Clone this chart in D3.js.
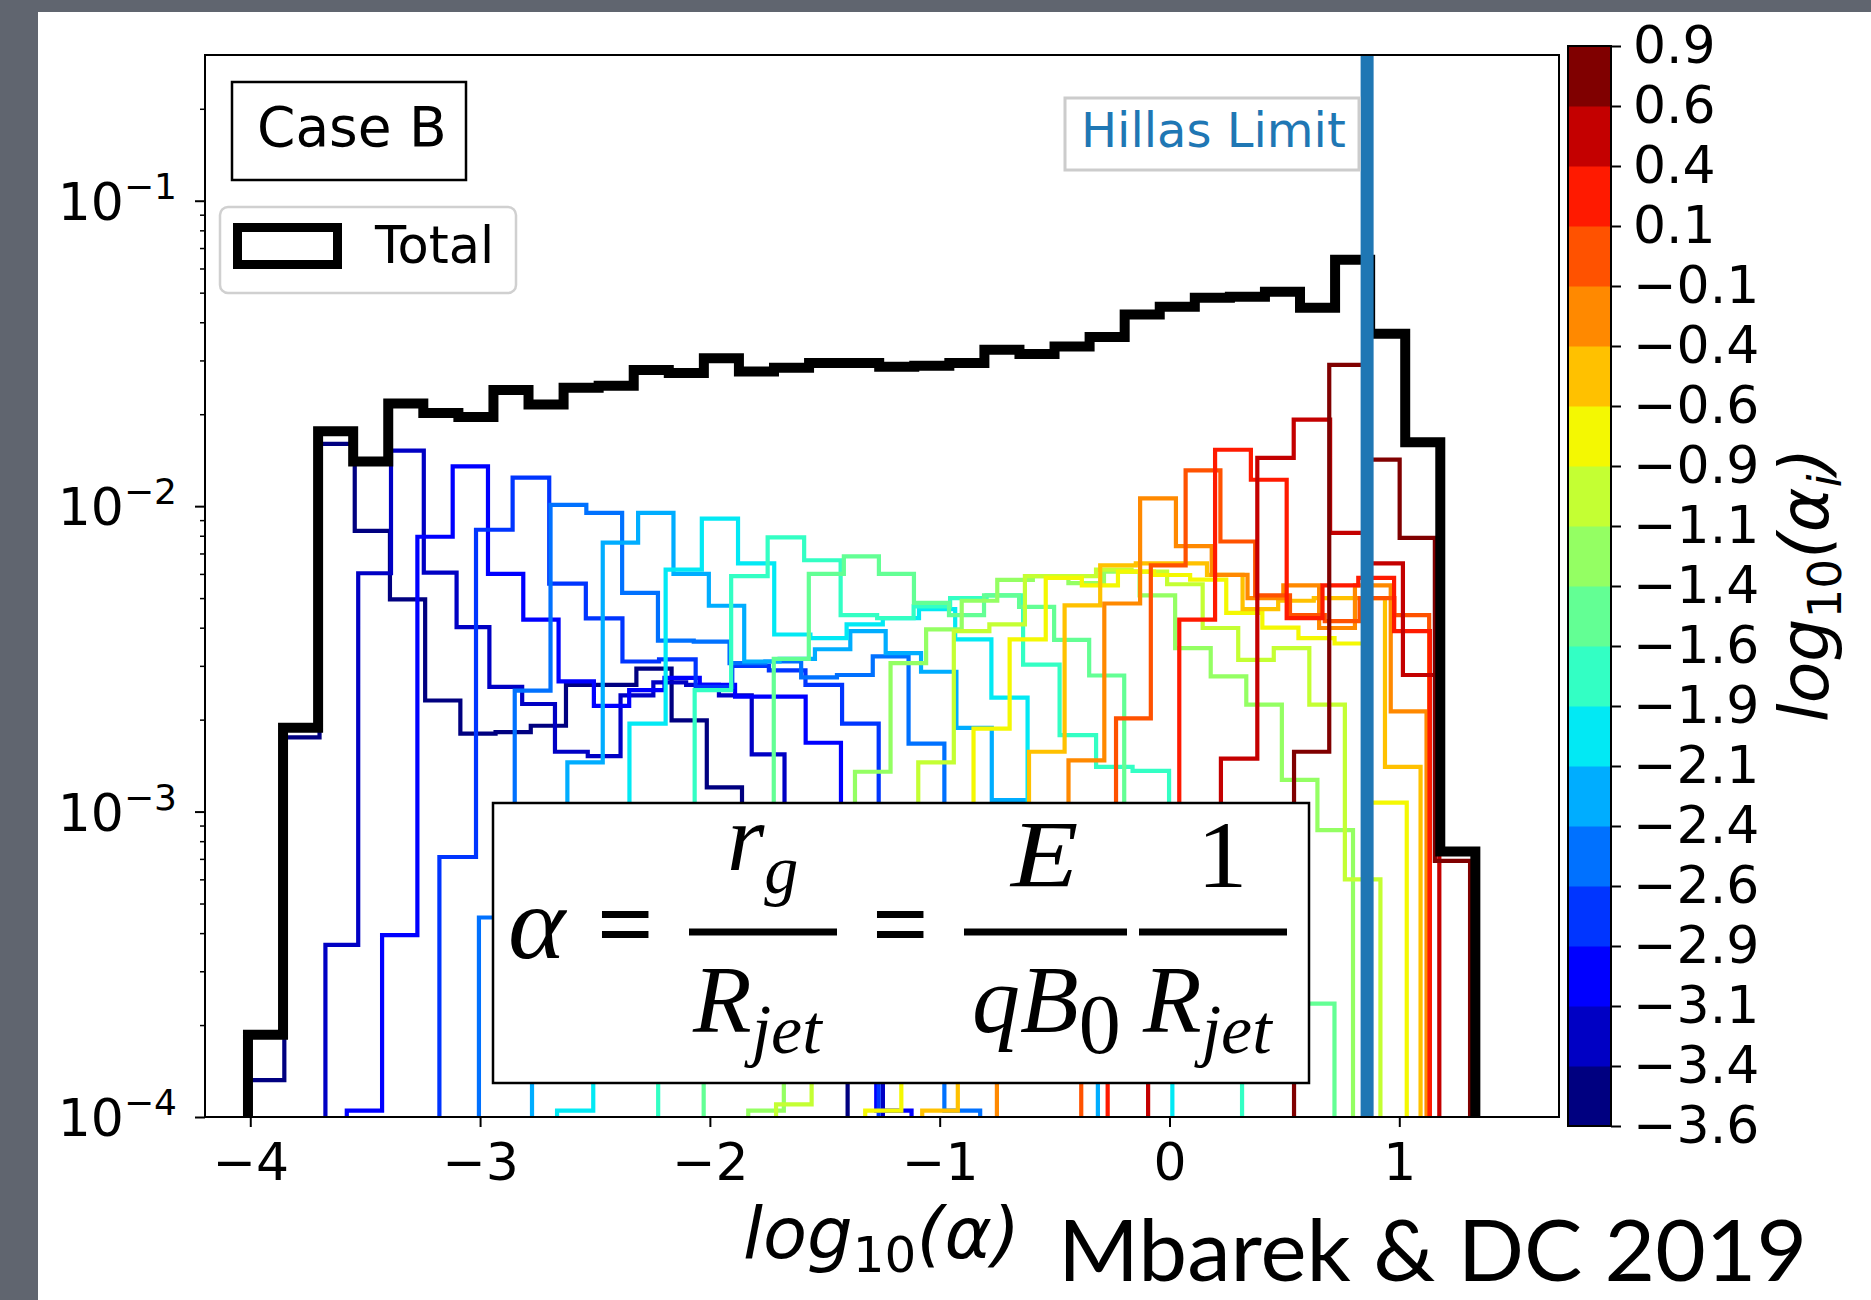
<!DOCTYPE html>
<html>
<head>
<meta charset="utf-8">
<script src="https://cdn.jsdelivr.net/npm/d3@7"></script>
<style>
  body { margin: 0; background: #60656f; }
  svg text { font-family: "DejaVu Sans", sans-serif; }
</style>
</head>
<body>
<svg id="chart" width="1871" height="1300"></svg>
<script>
// ---------------- data ----------------
// total histogram (thick black), bins in log10(alpha)
var totalStart = -4.01;
var totalWidth = 0.1526;
var totalValues = [1.86e-4, 1.88e-3, 1.76e-2, 1.40e-2, 2.17e-2, 2.02e-2, 1.96e-2, 2.40e-2, 2.15e-2, 2.44e-2,
  2.48e-2, 2.79e-2, 2.73e-2, 3.05e-2, 2.76e-2, 2.84e-2, 2.94e-2, 2.94e-2, 2.86e-2, 2.88e-2,
  2.94e-2, 3.25e-2, 3.15e-2, 3.33e-2, 3.58e-2, 4.24e-2, 4.50e-2, 4.81e-2, 4.85e-2, 5.03e-2,
  4.46e-2, 6.41e-2, 3.67e-2, 1.62e-2, 7.4e-4];

// one histogram per injection bin alpha_i (0 = lowest, 17 = highest)
var seriesStart = [-4.005, -3.673, -3.580, -3.177, -3.005, -2.774, -2.665, -2.225, -2.027,
  -1.833, -1.712, -1.324, -1.076, -0.751, -0.384, -0.269, -0.093, 0.542];
var seriesWidth = [0.1532, 0.1427, 0.1536, 0.1593, 0.1558, 0.1539, 0.1575, 0.1588, 0.1525,
  0.1548, 0.1547, 0.1571, 0.1549, 0.1558, 0.1514, 0.1558, 0.1584, 0.1532];
var seriesValues = [
  [1.32e-4, 1.75e-3, 1.6e-2, 8.3e-3, 4.95e-3, 2.31e-3, 1.80e-3, 1.82e-3, 1.91e-3, 2.6e-3, 2.6e-3, 2.94e-3, 1.99e-3, 1.2e-3, 6e-4, 3e-4, 1.5e-4],
  [3.66e-4, 6.03e-3, 1.52e-2, 6.06e-3, 4.02e-3, 2.56e-3, 2.25e-3, 1.57e-3, 1.52e-3, 2.4e-3, 2.65e-3, 2.6e-3, 2.4e-3, 1.54e-3, 6e-4, 3e-4, 1.5e-4],
  [1.05e-4, 3.94e-4, 7.94e-3, 1.35e-2, 6.0e-3, 4.25e-3, 2.67e-3, 2.22e-3, 2.5e-3, 2.74e-3, 2.6e-3, 2.38e-3, 2.38e-3, 1.68e-3, 4e-4, 1.05e-4],
  [7.1e-4, 8.37e-3, 1.24e-2, 5.58e-3, 4.29e-3, 3.1e-3, 3.15e-3, 2.56e-3, 3.0e-3, 2.9e-3, 2.6e-3, 1.94e-3],
  [4.5e-4, 2.49e-3, 1.01e-2, 9.5e-3, 5.2e-3, 3.63e-3, 3.6e-3, 3.06e-3, 3.1e-3, 2.75e-3, 2.8e-3, 3.22e-3, 1.67e-3, 1.05e-4],
  [4e-4, 1.45e-3, 7.6e-3, 9.5e-3, 6.0e-3, 4.72e-3, 3.1e-3, 3.16e-3, 3.4e-3, 3.9e-3, 3.3e-3, 2.87e-3, 1.88e-3, 1.09e-3, 5e-4, 2e-4],
  [1.05e-4, 5e-4, 1.94e-3, 6.2e-3, 9.1e-3, 6.5e-3, 3.8e-3, 3.7e-3, 4.1e-3, 4.3e-3, 4.6e-3, 3.66e-3, 2.36e-3, 1.0e-3, 6e-4, 3e-4, 1.5e-4],
  [6e-4, 2.5e-3, 5.9e-3, 7.9e-3, 6.65e-3, 4.4e-3, 4.3e-3, 4.7e-3, 5.0e-3, 5.1e-3, 3.03e-3, 1.78e-3, 1.4e-3, 1.36e-3, 4e-4, 1.5e-4],
  [2e-4, 6e-4, 3.16e-3, 6.0e-3, 6.85e-3, 6.0e-3, 4.82e-3, 4.4e-3, 5.1e-3, 4.68e-3, 3.65e-3, 2.79e-3, 8e-4, 5e-4, 4e-4, 3e-4, 2.8e-4, 2.35e-4],
  [1.05e-4, 2e-4, 5e-4, 1.35e-3, 3.06e-3, 3.95e-3, 4.9e-3, 5.74e-3, 5.9e-3, 5.6e-3, 6.1e-3, 5.1e-3, 3.43e-3, 2.77e-3, 2.24e-3, 1.27e-3, 8.7e-4],
  [1.1e-4, 3e-4, 6e-4, 9e-4, 1.45e-3, 3.9e-3, 4.1e-3, 5.9e-3, 5.9e-3, 6.2e-3, 6.1e-3, 5.55e-3, 3.99e-3, 3.14e-3, 3.43e-3, 2.24e-3, 6.0e-4],
  [1.05e-4, 2e-4, 5e-4, 1.87e-3, 3.66e-3, 5.82e-3, 5.5e-3, 6.1e-3, 5.95e-3, 5.75e-3, 4.47e-3, 4.0e-3, 3.7e-3, 3.55e-3, 1.07e-3],
  [1.05e-4, 2.5e-4, 6e-4, 1.57e-3, 4.73e-3, 6.4e-3, 6.5e-3, 6.5e-3, 5.96e-3, 4.6e-3, 4.9e-3, 5.0e-3, 5.0e-3, 1.4e-3],
  [1.5e-4, 5e-4, 1.47e-3, 4.8e-3, 1.06e-2, 7.4e-3, 5.96e-3, 5.0e-3, 5.5e-3, 3.99e-3, 5.5e-3, 2.13e-3],
  [5e-4, 2.02e-3, 6.4e-3, 1.31e-2, 7.66e-3, 5.1e-3, 4.4e-3, 4.2e-3, 5.0e-3, 4.4e-3],
  [2e-4, 7e-4, 4.25e-3, 1.53e-2, 1.22e-2, 4.3e-3, 5.5e-3, 5.82e-3, 3.9e-3],
  [2e-4, 6e-4, 1.49e-3, 1.44e-2, 1.92e-2, 8.17e-3, 6.5e-3, 2.8e-3],
  [1.57e-3, 2.9e-2, 1.42e-2, 7.87e-3, 6.9e-4]
];

var hillasLimit = 0.86;
var xTicks = [-4, -3, -2, -1, 0, 1];
var yTicks = [1e-4, 1e-3, 1e-2, 1e-1];
var yTickExp = ["\u22124", "\u22123", "\u22122", "\u22121"];
var cbMin = -3.6, cbMax = 0.9, cbBands = 18;
var cbTickLabels = ["\u22123.6", "\u22123.4", "\u22123.1", "\u22122.9", "\u22122.6", "\u22122.4", "\u22122.1",
  "\u22121.9", "\u22121.6", "\u22121.4", "\u22121.1", "\u22120.9", "\u22120.6", "\u22120.4", "\u22120.1",
  "0.1", "0.4", "0.6", "0.9"];

// ---------------- jet colormap ----------------
var jetR = [[0, 0], [0.35, 0], [0.66, 1], [0.89, 1], [1, 0.5]];
var jetG = [[0, 0], [0.125, 0], [0.375, 1], [0.64, 1], [0.91, 0], [1, 0]];
var jetB = [[0, 0.5], [0.11, 1], [0.34, 1], [0.65, 0], [1, 0]];
function seg(pts, t) {
  for (var i = 1; i < pts.length; i++) {
    if (t <= pts[i][0]) {
      var f = (t - pts[i-1][0]) / (pts[i][0] - pts[i-1][0]);
      return pts[i-1][1] + f * (pts[i][1] - pts[i-1][1]);
    }
  }
  return pts[pts.length-1][1];
}
function jet(t) {
  return d3.rgb(Math.round(255*seg(jetR, t)), Math.round(255*seg(jetG, t)), Math.round(255*seg(jetB, t))).formatHex();
}

// ---------------- layout ----------------
var svg = d3.select("#chart");
var plot = { left: 205, right: 1559, top: 55, bottom: 1117 };

svg.append("rect").attr("width", 1871).attr("height", 1300).attr("fill", "#60656f");
svg.append("rect").attr("x", 38).attr("y", 12).attr("width", 1833).attr("height", 1288).attr("fill", "#ffffff");

var x = d3.scaleLinear().domain([-4.197, 1.695]).range([plot.left, plot.right]);
var y = d3.scaleLog().domain([1e-4, 0.3]).range([plot.bottom, plot.top]);

svg.append("defs").append("clipPath").attr("id", "plotclip")
  .append("rect").attr("x", plot.left).attr("y", plot.top)
  .attr("width", plot.right - plot.left).attr("height", plot.bottom - plot.top);

var line = d3.line().x(function(d) { return d[0]; }).y(function(d) { return d[1]; });
function stepPoints(start, width, vals) {
  var floorY = plot.bottom + 30;
  var pts = [[x(start), floorY]];
  vals.forEach(function(v, i) {
    var yy = v > 0 ? Math.min(y(v), floorY) : floorY;
    pts.push([x(start + i * width), yy]);
    pts.push([x(start + (i + 1) * width), yy]);
  });
  pts.push([x(start + vals.length * width), floorY]);
  return pts;
}

var hists = svg.append("g").attr("clip-path", "url(#plotclip)");
seriesValues.forEach(function(vals, i) {
  hists.append("path")
    .attr("d", line(stepPoints(seriesStart[i], seriesWidth[i], vals)))
    .attr("fill", "none")
    .attr("stroke", jet(i / (seriesValues.length - 1)))
    .attr("stroke-width", 4.2)
    .attr("stroke-linejoin", "miter");
});
hists.append("path")
  .attr("d", line(stepPoints(totalStart, totalWidth, totalValues)))
  .attr("fill", "none").attr("stroke", "#000").attr("stroke-width", 10).attr("stroke-linejoin", "miter");

// Hillas limit line
hists.append("line")
  .attr("x1", x(hillasLimit)).attr("x2", x(hillasLimit))
  .attr("y1", plot.top).attr("y2", plot.bottom)
  .attr("stroke", "#1f77b4").attr("stroke-width", 13);

// axes
var xAxis = svg.append("g").attr("transform", "translate(0," + plot.bottom + ")")
  .call(d3.axisBottom(x).tickValues(xTicks).tickSize(10).tickPadding(16)
    .tickFormat(function(d) { return d < 0 ? "\u2212" + Math.abs(d) : d; }));
xAxis.select(".domain").remove();
xAxis.selectAll("line").attr("stroke-width", 2);
xAxis.selectAll("text").style("font-size", "52px").style("font-family", "DejaVu Sans").attr("fill", "#000");

var minor = [];
[1e-4, 1e-3, 1e-2, 1e-1].forEach(function(dec) {
  for (var m = 2; m <= 9; m++) { if (m * dec <= 0.3) minor.push(m * dec); }
});
var yMinor = svg.append("g").attr("transform", "translate(" + plot.left + ",0)")
  .call(d3.axisLeft(y).tickValues(minor).tickSize(5).tickFormat(""));
yMinor.select(".domain").remove();
yMinor.selectAll("line").attr("stroke-width", 1.5);
var yAxis = svg.append("g").attr("transform", "translate(" + plot.left + ",0)")
  .call(d3.axisLeft(y).tickValues(yTicks).tickSize(10).tickFormat(""));
yAxis.select(".domain").remove();
yAxis.selectAll("line").attr("stroke-width", 2);
yTicks.forEach(function(t, i) {
  var tx = svg.append("text").attr("x", 177).attr("y", y(t) + 19)
    .attr("text-anchor", "end").style("font-size", "52px");
  tx.append("tspan").text("10");
  tx.append("tspan").attr("dy", -21).style("font-size", "36px").text(yTickExp[i]);
});

// frame
svg.append("rect").attr("x", plot.left).attr("y", plot.top)
  .attr("width", plot.right - plot.left).attr("height", plot.bottom - plot.top)
  .attr("fill", "none").attr("stroke", "#000").attr("stroke-width", 2);

// x label
var xl = svg.append("text").attr("x", 743).attr("y", 1258).style("font-size", "72px");
xl.append("tspan").style("font-style", "italic").text("log");
xl.append("tspan").attr("dy", 14).style("font-size", "50px").text("10");
xl.append("tspan").attr("dy", -14).style("font-style", "italic").text("(\u03b1)");

// ---------------- colorbar ----------------
var cb = { left: 1568, right: 1611, top: 46, bottom: 1126 };
var cbScale = d3.scaleLinear().domain([cbMin, cbMax]).range([cb.bottom, cb.top]);
var cbStep = (cbMax - cbMin) / cbBands;
d3.range(cbBands).forEach(function(i) {
  svg.append("rect")
    .attr("x", cb.left).attr("width", cb.right - cb.left)
    .attr("y", cbScale(cbMin + (i + 1) * cbStep))
    .attr("height", cbScale(cbMin + i * cbStep) - cbScale(cbMin + (i + 1) * cbStep) + 0.5)
    .attr("fill", jet(i / (cbBands - 1)));
});
svg.append("rect").attr("x", cb.left).attr("y", cb.top)
  .attr("width", cb.right - cb.left).attr("height", cb.bottom - cb.top)
  .attr("fill", "none").attr("stroke", "#000").attr("stroke-width", 2);
var cbTickVals = d3.range(cbBands + 1).map(function(i) { return cbMin + i * cbStep; });
var cbAxis = svg.append("g").attr("transform", "translate(" + cb.right + ",0)")
  .call(d3.axisRight(cbScale).tickValues(cbTickVals).tickSize(10).tickPadding(12)
    .tickFormat(function(d, i) { return cbTickLabels[i]; }));
cbAxis.select(".domain").remove();
cbAxis.selectAll("line").attr("stroke-width", 2);
cbAxis.selectAll("text").style("font-size", "52px").style("font-family", "DejaVu Sans").attr("fill", "#000");

var cl = svg.append("text").attr("transform", "translate(1828,585) rotate(-90)")
  .attr("text-anchor", "middle").style("font-size", "68px");
cl.append("tspan").style("font-style", "italic").text("log");
cl.append("tspan").attr("dy", 13).style("font-size", "47px").text("10");
cl.append("tspan").attr("dy", -13).style("font-style", "italic").text("(\u03b1");
cl.append("tspan").attr("dy", 13).style("font-size", "47px").style("font-style", "italic").text("i");
cl.append("tspan").attr("dy", -13).style("font-style", "italic").text(")");

// ---------------- legends / annotations ----------------
svg.append("rect").attr("x", 232).attr("y", 82).attr("width", 234).attr("height", 98)
  .attr("fill", "#fff").attr("stroke", "#000").attr("stroke-width", 2.5);
svg.append("text").attr("x", 257).attr("y", 146).style("font-size", "55px").text("Case B");

svg.append("rect").attr("x", 220).attr("y", 207).attr("width", 296).attr("height", 86).attr("rx", 8)
  .attr("fill", "#fff").attr("stroke", "#d0d0d0").attr("stroke-width", 2.5);
svg.append("rect").attr("x", 237.5).attr("y", 227.5).attr("width", 100).attr("height", 37)
  .attr("fill", "#fff").attr("stroke", "#000").attr("stroke-width", 9);
svg.append("text").attr("x", 375).attr("y", 263).style("font-size", "51px").text("Total");

svg.append("rect").attr("x", 1065).attr("y", 98).attr("width", 294).attr("height", 72)
  .attr("fill", "#fff").attr("stroke", "#cccccc").attr("stroke-width", 3);
svg.append("text").attr("x", 1081).attr("y", 147).style("font-size", "48px").attr("fill", "#1f77b4").text("Hillas Limit");

// formula box
var fb = svg.append("g");
fb.append("rect").attr("x", 493).attr("y", 803).attr("width", 816).attr("height", 280)
  .attr("fill", "#fff").attr("stroke", "#000").attr("stroke-width", 2.5);
var serif = "'Liberation Serif', 'DejaVu Serif', serif";
// piece: main glyph(s) plus optional lowered subscript, one text element each
function ft(px, py, sx, size, txt, italic, sub, subSize, subItalic, subDy) {
  var t = fb.append("text").attr("transform", "translate(" + px + "," + py + ") scale(" + sx + ",1)")
    .style("font-family", serif).style("font-size", size + "px")
    .style("font-style", italic ? "italic" : "normal");
  t.append("tspan").text(txt);
  if (sub) {
    t.append("tspan").attr("dy", subDy)
      .style("font-size", subSize + "px").style("font-style", subItalic ? "italic" : "normal").text(sub);
  }
  return t;
}
function bar(x1, x2) {
  fb.append("line").attr("x1", x1).attr("x2", x2).attr("y1", 932).attr("y2", 932)
    .attr("stroke", "#000").attr("stroke-width", 7);
}
ft(508, 958, 1.05, 104, "\u03b1", true);
ft(597, 958, 1.0, 100, "=", false).style("font-weight", "bold");
bar(689, 837);
ft(727, 870, 1.0, 96, "r", true, "g", 68, true, 23);
ft(693, 1032, 1.0, 96, "R", true, "jet", 70, true, 21);
ft(872, 958, 1.0, 100, "=", false).style("font-weight", "bold");
bar(964, 1127);
ft(1011, 887, 1.15, 96, "E", true);
ft(972, 1032, 1.0, 96, "qB", true, "0", 84, false, 21);
bar(1139, 1287);
ft(1197, 887, 1.05, 96, "1", false);
ft(1143, 1032, 1.0, 96, "R", true, "jet", 70, true, 21);

// credit
svg.append("text").attr("x", 1058).attr("y", 1281)
  .attr("textLength", 749).attr("lengthAdjust", "spacingAndGlyphs")
  .style("font-family", "Lato, 'Open Sans', sans-serif").style("font-size", "86px").text("Mbarek & DC 2019");
</script>
</body>
</html>
